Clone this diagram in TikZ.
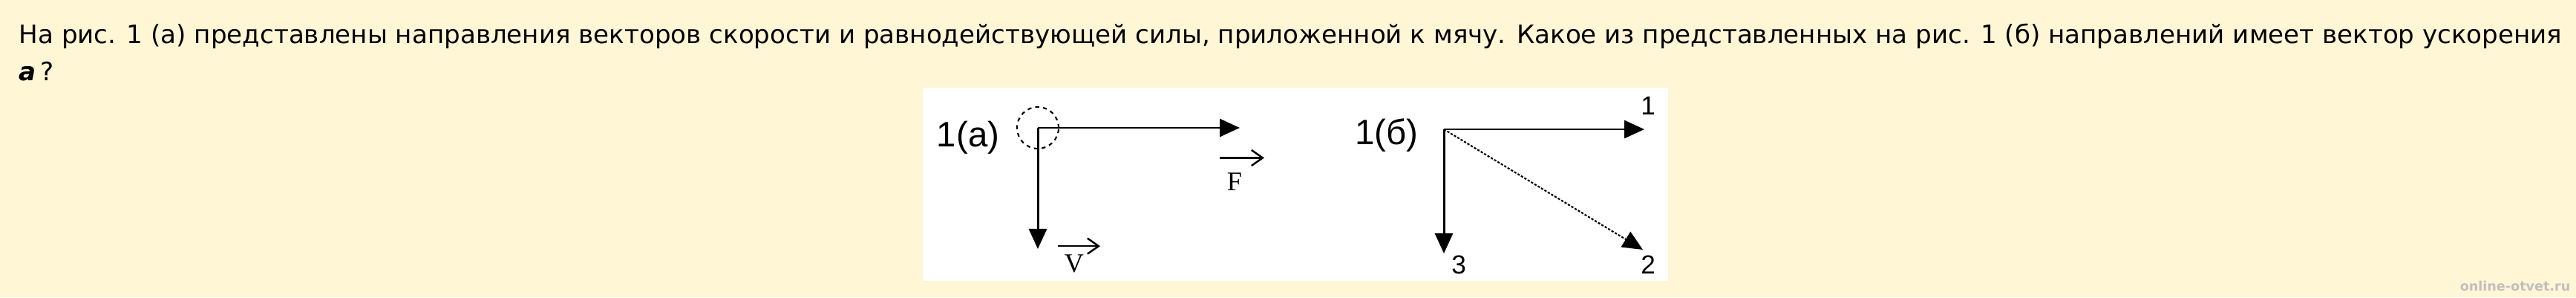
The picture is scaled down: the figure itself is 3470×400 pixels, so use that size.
\documentclass[tikz,border=0pt]{standalone}
\usepackage{fontspec}
\setmainfont{Liberation Serif}
\setsansfont{DejaVu Sans}
\newfontfamily\labelfont{Liberation Sans}
\usepackage{tikz}
\usetikzlibrary{arrows.meta,positioning}
\definecolor{paper}{HTML}{FFF6D6}
\tikzstyle{vecarrow} = [-{Triangle[length=0.27cm,width=0.24cm]}, line width=0.85pt]
\tikzstyle{overarrow} = [-{Straight Barb[length=0.15cm,width=0.21cm]}, line width=0.7pt]
\tikzstyle{figlabel} = [font=\labelfont\fontsize{13.5pt}{15pt}\selectfont]
\tikzstyle{dirlabel} = [font=\labelfont\fontsize{10pt}{12pt}\selectfont]
\tikzstyle{veclabel} = [font=\fontsize{10.3pt}{12pt}\selectfont]
\tikzstyle{qtext} = [anchor=base west, font=\sffamily\fontsize{9.7pt}{14.2pt}\selectfont]

\begin{document}
\begin{tikzpicture}[x=0.01cm, y=-0.01cm, every node/.style={inner sep=0pt}]
	\fill[paper] (0,0) rectangle (3470,400);
	\useasboundingbox (0,0) rectangle (3470,400);

	% question text
	\node (qline1) [qtext] at (25,58)
		{На рис. 1 (а) представлены направления векторов скорости и равнодействующей силы, приложенной к мячу. Какое из представленных на рис. 1 (б) направлений имеет вектор ускорения};
	\node (qline2) [qtext] at (25,108) {\textbf{\textit{a}}\,?};

	\fill[white] (1243,118) rectangle (2247,378);

	% figure 1 (a)
	\coordinate (ball) at (1398,172);
	\node (ballshape) [circle, draw, line width=0.6pt, dash pattern=on 1.5pt off 1.5pt, minimum size=0.56cm] at (ball) {};
	\node (1name) [figlabel, anchor=base east] at (1347,197) {1(а)};
	\coordinate (Ftip) at (1670,172);
	\coordinate (Vtip) at (1398,335);
	\draw [vecarrow] (ball) -- (Ftip);
	\draw [vecarrow] (ball) -- (Vtip);
	\node (Flab) [veclabel] at (1663,245) {F};
	\node (Vlab) [veclabel] at (1447,355) {V};
	\draw [overarrow] ([shift={(-20,-20)}]Flab.north) -- ++(60,0);
	\draw [overarrow] ([shift={(-22,-11)}]Vlab.north) -- ++(57,0);

	% figure 1 (b)
	\coordinate (origin) at (1945,174);
	\node (2name) [figlabel, anchor=base east] at (1911,194) {1(б)};
	\coordinate (dir1) at (2215,174);
	\coordinate (dir2) at (2213,336);
	\coordinate (dir3) at (1945,341);
	\draw [vecarrow] (origin) -- (dir1);
	\draw [vecarrow, line width=0.6pt, dash pattern=on 0.9pt off 0.6pt] (origin) -- (dir2);
	\draw [vecarrow] (origin) -- (dir3);
	\node (lab1) [dirlabel] at (2220,142) {1};
	\node (lab2) [dirlabel] at (2220,356) {2};
	\node (lab3) [dirlabel] at (1965,356) {3};

	\node (mark) [anchor=base east, text=black!25, font=\sffamily\bfseries\fontsize{5pt}{6pt}\selectfont] at (3463,391) {online-otvet.ru};
\end{tikzpicture}
\end{document}
